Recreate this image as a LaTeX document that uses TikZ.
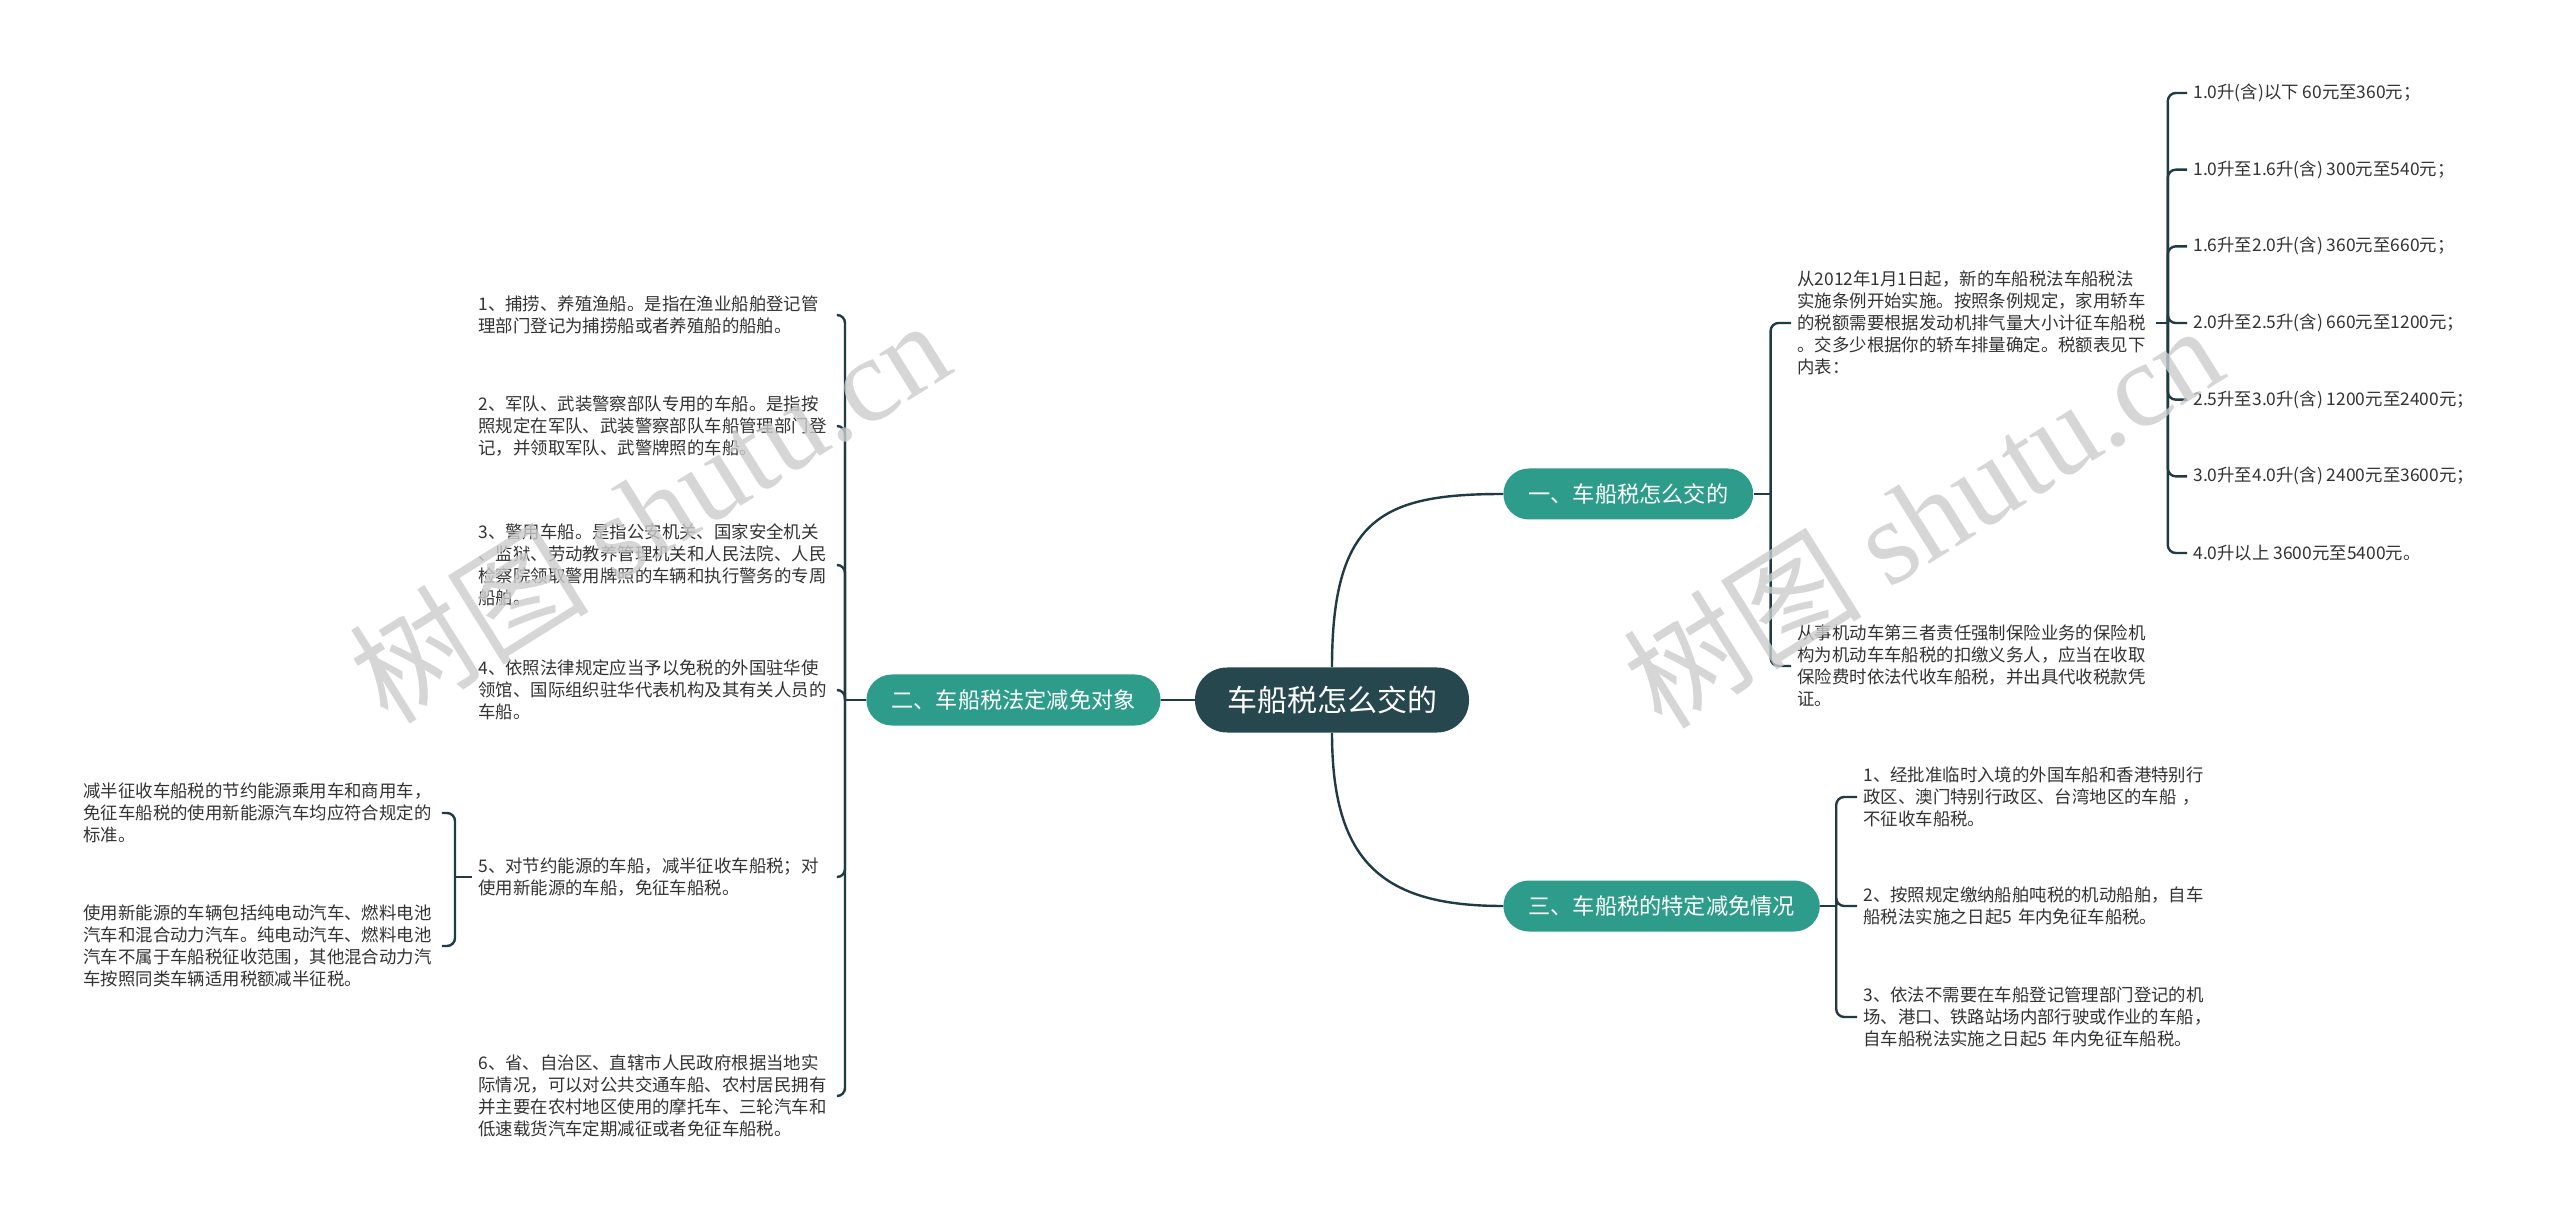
\documentclass[tikz,border=0pt]{standalone}
\usepackage{fontspec}
\setmainfont{Noto Sans CJK SC}
\newfontfamily\wmfont{Liberation Serif}
\definecolor{rootcol}{HTML}{27474F}
\definecolor{branchcol}{HTML}{2D9C8B}
\definecolor{linecol}{HTML}{1F3B45}
\definecolor{txtcol}{HTML}{333333}
\tikzset{
  rootbox/.style={fill=rootcol, text=white, rounded corners=16pt, minimum height=32.5pt,
    inner xsep=16pt, font=\fontsize{15pt}{18pt}\selectfont},
  branchbox/.style={fill=branchcol, text=white, rounded corners=12.75pt, minimum height=25.5pt,
    inner xsep=12.5pt, font=\fontsize{11.1pt}{13pt}\selectfont},
  leaf/.style={text=txtcol, align=left, inner xsep=3pt, inner ysep=1pt,
    font=\fontsize{8.7pt}{11pt}\selectfont},
  leafbox/.style={leaf, text width=176pt},
  link/.style={draw=linecol, line width=1.2pt, rounded corners=4pt},
  watermark/.style={text=black!20, opacity=0.8, rotate=32, font=\fontsize{60pt}{62pt}\selectfont}
}
\begin{document}
\begin{tikzpicture}[x=0.5pt, y=-0.5pt]
            \fill[white] (0,0) rectangle (2560,1213);
            \useasboundingbox (0,0) rectangle (2560,1213);

            % 中心主题
            \node[rootbox] (root) at (1332,700) {车船税怎么交的};

            % 三个分支
            \node[branchbox, anchor=west] (b1) at (1503,494) {一、车船税怎么交的};
            \node[branchbox, anchor=east] (b2) at (1161,700) {二、车船税法定减免对象};
            \node[branchbox, anchor=west] (b3) at (1503,906) {三、车船税的特定减免情况};

            % 分支一的内容
            \node[leafbox, anchor=west] (t11) at (1791,323) {从2012年1月1日起，新的车船税法车船税法\\实施条例开始实施。按照条例规定，家用轿车\\的税额需要根据发动机排气量大小计征车船税\\。交多少根据你的轿车排量确定。税额表见下\\内表：};
            \node[leafbox, anchor=west] (t12) at (1791,666) {从事机动车第三者责任强制保险业务的保险机\\构为机动车车船税的扣缴义务人，应当在收取\\保险费时依法代收车船税，并出具代收税款凭\\证。};

            % 税额表 (7 档)
            \foreach [count=\i] \t in {1.0升(含)以下 60元至360元；, 1.0升至1.6升(含) 300元至540元；,
                1.6升至2.0升(含) 360元至660元；, 2.0升至2.5升(含) 660元至1200元；,
                2.5升至3.0升(含) 1200元至2400元；, 3.0升至4.0升(含) 2400元至3600元；,
                4.0升以上 3600元至5400元。} {
                \node[leaf, anchor=west] (k\i) at (2187,{16.33+76.67*\i}) {\t};
            }

            % 分支二的内容
            \node[leafbox, anchor=west] (c1) at (472,315) {1、捕捞、养殖渔船。是指在渔业船舶登记管\\理部门登记为捕捞船或者养殖船的船舶。};
            \node[leafbox, anchor=west] (c2) at (472,426) {2、军队、武装警察部队专用的车船。是指按\\照规定在军队、武装警察部队车船管理部门登\\记，并领取军队、武警牌照的车船。};
            \node[leafbox, anchor=west] (c3) at (472,565) {3、警用车船。是指公安机关、国家安全机关\\、监狱、劳动教养管理机关和人民法院、人民\\检察院领取警用牌照的车辆和执行警务的专周\\船舶。};
            \node[leafbox, anchor=west] (c4) at (472,690) {4、依照法律规定应当予以免税的外国驻华使\\领馆、国际组织驻华代表机构及其有关人员的\\车船。};
            \node[leafbox, anchor=west] (c5) at (472,877) {5、对节约能源的车船，减半征收车船税；对\\使用新能源的车船，免征车船税。};
            \node[leafbox, anchor=west] (c6) at (472,1096) {6、省、自治区、直辖市人民政府根据当地实\\际情况，可以对公共交通车船、农村居民拥有\\并主要在农村地区使用的摩托车、三轮汽车和\\低速载货汽车定期减征或者免征车船税。};

            % 第5条的补充说明
            \node[leafbox, anchor=west] (c51) at (77,813) {减半征收车船税的节约能源乘用车和商用车，\\免征车船税的使用新能源汽车均应符合规定的\\标准。};
            \node[leafbox, anchor=west] (c52) at (77,946) {使用新能源的车辆包括纯电动汽车、燃料电池\\汽车和混合动力汽车。纯电动汽车、燃料电池\\汽车不属于车船税征收范围，其他混合动力汽\\车按照同类车辆适用税额减半征税。};

            % 分支三的内容
            \node[leafbox, anchor=west] (t31) at (1857,797) {1、经批准临时入境的外国车船和香港特别行\\政区、澳门特别行政区、台湾地区的车船 ，\\不征收车船税。};
            \node[leafbox, anchor=west] (t32) at (1857,906) {2、按照规定缴纳船舶吨税的机动船舶，自车\\船税法实施之日起5 年内免征车船税。};
            \node[leafbox, anchor=west] (t33) at (1857,1017) {3、依法不需要在车船登记管理部门登记的机\\场、港口、铁路站场内部行驶或作业的车船，\\自车船税法实施之日起5 年内免征车船税。};

            % 中心到分支的连线
            \draw[link] (root.north) .. controls +(0,-150) and +(-120,0) .. (b1.west);
            \draw[link] (root.south) .. controls +(0,130) and +(-120,0) .. (b3.west);
            \draw[link] (root.west) -- (b2.east);

            % 分支一
            \draw[link] (b1.east) -- ++(17,0) coordinate (j1);
            \foreach \c in {t11,t12} \draw[link] (j1) |- (\c.west);
            \draw[link] (t11.east) -- ++(12,0) coordinate (jt);
            \foreach \i in {1,...,7} \draw[link] (jt) |- (k\i.west);

            % 分支二
            \draw[link] (b2.west) -- ++(-21,0) coordinate (j2);
            \foreach \c in {c1,c2,c3,c4,c5,c6} \draw[link] (j2) |- (\c.east);
            \draw[link] (c5.west) -- ++(-17,0) coordinate (j5);
            \foreach \c in {c51,c52} \draw[link] (j5) |- (\c.east);

            % 分支三
            \draw[link] (b3.east) -- ++(16,0) coordinate (j3);
            \foreach \c in {t31,t32,t33} \draw[link] (j3) |- (\c.west);

            % 水印
            \node[watermark] (wm1) at (649,510) {树图 {\wmfont shutu.cn}};
            \node[watermark] (wm2) at (1922,515) {树图 {\wmfont shutu.cn}};
\end{tikzpicture}
\end{document}
